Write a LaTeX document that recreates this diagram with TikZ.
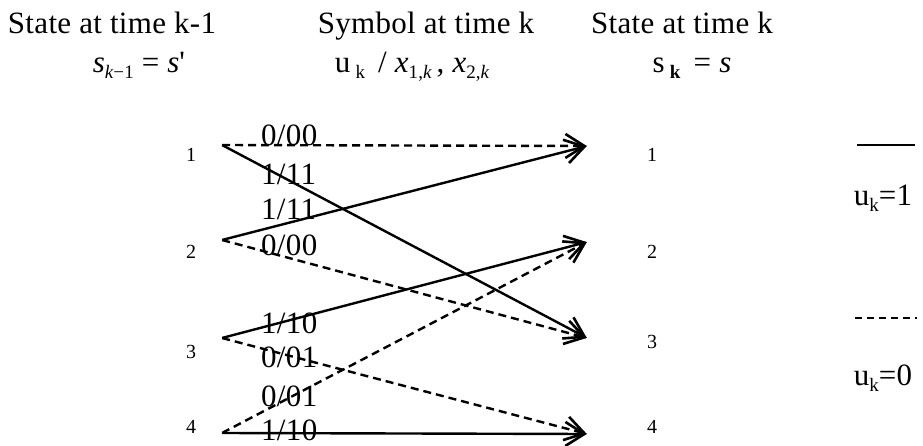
\documentclass[tikz,border=0pt]{standalone}
\usepackage{fontspec}
\setmainfont{Liberation Serif}[LetterSpace=1]
\usetikzlibrary{arrows.meta}
\newcommand{\lowsub}[1]{\raisebox{-6pt}{\fontsize{19}{19}\selectfont #1}}
\tikzset{
  big/.style={font=\fontsize{31}{31}\selectfont, inner sep=0pt, anchor=base},
  lab/.style={font=\fontsize{31}{31}\selectfont, inner sep=0pt, anchor=base west},
  num/.style={font=\fontsize{20}{20}\selectfont, inner sep=0pt},
  pt/.style={inner sep=0pt, minimum size=0pt},
  one/.style={line width=2.4pt, -{Straight Barb[length=19pt,width=24pt,line width=2.6pt]}},
  zero/.style={one, dash pattern=on 8pt off 5pt},
  legone/.style={line width=2pt},
  legzero/.style={line width=2.4pt, dash pattern=on 7pt off 5pt}
}
\begin{document}
\begin{tikzpicture}[x=1pt,y=-1pt]
\useasboundingbox (0,0) rectangle (923,446);
% headings
\node[big] (h1) at (112,34) {State at time k-1};
\node[big] (h2) at (426,34) {Symbol at time k};
\node[big] (h3) at (682,34) {State at time k};
\node[big] (m1) at (139,73) {{\itshape s}\lowsub{\itshape k\upshape\char"2212 1} = {\itshape s}\textquotesingle};
\node[big] (m2) at (412,73) {u\,\lowsub{k}\, / {\itshape x}\lowsub{1,\itshape k}\,, {\itshape x}\lowsub{2,\itshape k}};
\node[big] (m3) at (692,73) {s\,\lowsub{\bfseries k}\, = {\itshape s}};
% state points
\node[pt] (L1) at (222,145) {};
\node[pt] (L2) at (222,240) {};
\node[pt] (L3) at (222,338) {};
\node[pt] (L4) at (222,433) {};
\node[pt] (R1) at (587,146) {};
\node[pt] (R2) at (587,242) {};
\node[pt] (R3) at (587,338) {};
\node[pt] (R4) at (587,434) {};
% state numbers
\node[num] (nl1) at (191,155) {1};
\node[num] (nl2) at (191,252) {2};
\node[num] (nl3) at (191,352) {3};
\node[num] (nl4) at (191,427) {4};
\node[num] (nr1) at (652,155) {1};
\node[num] (nr2) at (652,252) {2};
\node[num] (nr3) at (652,342) {3};
\node[num] (nr4) at (652,427) {4};
% transitions
\draw[zero] (L1) -- (R1);
\draw[one]  (L1) -- (R3);
\draw[one]  (L2) -- (R1);
\draw[zero] (L2) -- (R3);
\draw[one]  (L3) -- (R2);
\draw[zero] (L3) -- (R4);
\draw[zero] (L4) -- (R2);
\draw[one]  (L4) -- (R4);
% transition labels
\node[lab] (t1) at (261,146) {0/00};
\node[lab] (t2) at (261,185) {1/11};
\node[lab] (t3) at (261,220) {1/11};
\node[lab] (t4) at (261,256) {0/00};
\node[lab] (t5) at (261,333) {1/10};
\node[lab] (t6) at (261,367) {0/01};
\node[lab] (t7) at (261,406) {0/01};
\node[lab] (t8) at (261,440) {1/10};
% legend
\coordinate (a1) at (857,145);
\coordinate (b1) at (915,145);
\coordinate (a0) at (855,318);
\coordinate (b0) at (917,318);
\draw[legone] (a1) -- (b1);
\draw[legzero] (a0) -- (b0);
\node[big] (k1) at (883,206) {u\lowsub{k}=1};
\node[big] (k0) at (883,385) {u\lowsub{k}=0};
\end{tikzpicture}
\end{document}
